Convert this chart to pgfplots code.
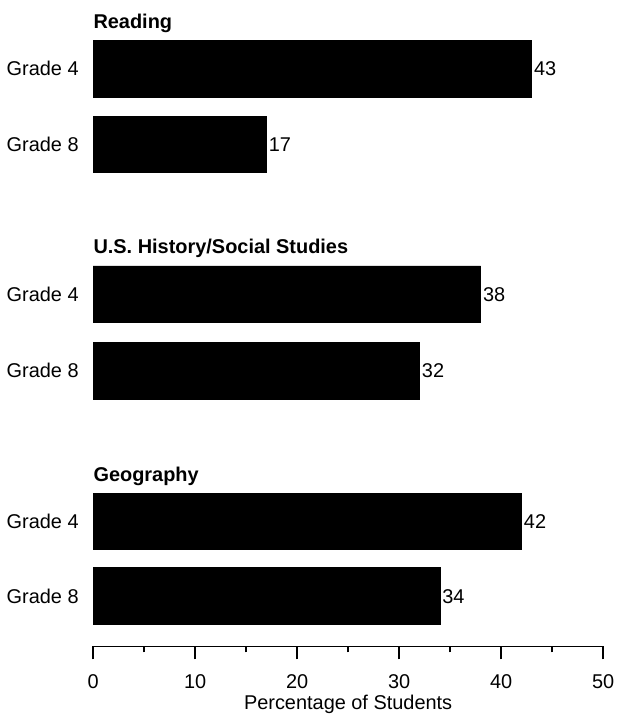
\documentclass[border=0pt]{standalone}
\usepackage{pgfplots}
\pgfplotsset{compat=1.18}
\usepackage{fontspec}
\setmainfont{Liberation Sans}

\begin{document}
\fontsize{10}{12}\selectfont
\begin{tikzpicture}
\begin{axis}[
    scale only axis,
    width=256pt, height=324.5pt,
    xmin=0, xmax=50,
    ymin=0, ymax=649,
    y dir=reverse,
    clip=false,
    axis x line=bottom,
    axis y line=left,
    axis line style={-, line width=0.7pt},
    y axis line style={draw=none},
    xtick={0,10,20,30,40,50},
    minor xtick={5,15,25,35,45},
    xtick align=outside,
    major tick length=6.5pt,
    minor tick length=3pt,
    every tick/.style={black, line width=0.7pt},
    ytick={69,145,295.5,372,523.5,598.5},
    yticklabels={Grade 4,Grade 8,Grade 4,Grade 8,Grade 4,Grade 8},
    ytick style={draw=none},
    yticklabel style={xshift=-0.5pt},
    xticklabel style={yshift=-4.3pt},
    /pgf/number format/assume math mode=true,
    xlabel={Percentage of Students},
    xlabel style={at={(axis description cs:0.5,0)}, anchor=base, yshift=-31.5pt},
    tick label style={font=\fontsize{10}{12}\selectfont},
    label style={font=\fontsize{10}{12}\selectfont},
]
\addplot[xbar, fill=black, draw=black, bar width=57,
    nodes near coords, nodes near coords align={horizontal},
    every node near coord/.append style={inner sep=1pt, font=\fontsize{10}{12}\selectfont},
] coordinates {
    (43,69) (17,145) (38,295.5) (32,372) (42,523.5) (34,598.5)
};
\node[anchor=base west, inner sep=0, font=\bfseries] at (axis cs:0,29) {Reading};
\node[anchor=base west, inner sep=0, font=\bfseries] at (axis cs:0,254) {U.S. History/Social Studies};
\node[anchor=base west, inner sep=0, font=\bfseries] at (axis cs:0,483) {Geography};
\path ([xshift=-46.5pt,yshift=-35.5pt]axis description cs:0,0) rectangle ([xshift=5.5pt]axis description cs:1,1);
\end{axis}
\end{tikzpicture}
\end{document}
